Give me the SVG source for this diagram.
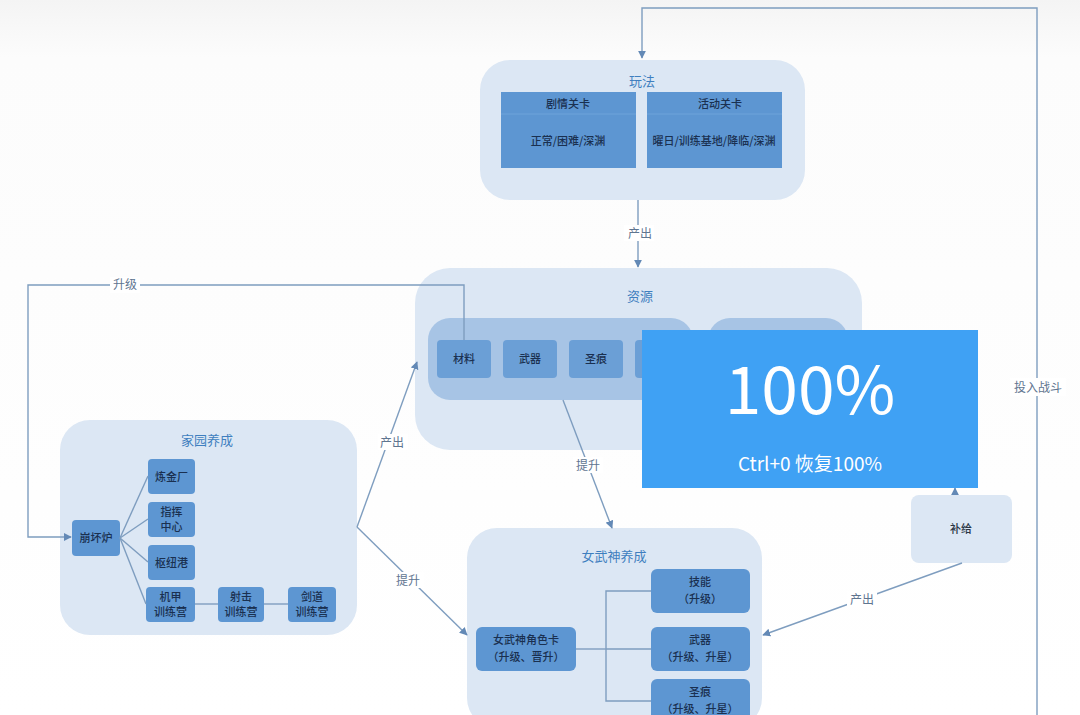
<svg xmlns="http://www.w3.org/2000/svg" width="1080" height="715" viewBox="0 0 1080 715">
<style>
text{font-family:"Noto Sans CJK SC","Liberation Sans",sans-serif;}
.grp{fill:#dce7f4;}
.gt{font-size:13px;fill:#3f7fbf;text-anchor:middle;}
.nd{fill:#5d96d2;}
.nt{font-size:11px;fill:#1a3050;text-anchor:middle;font-weight:500;}
.ri{fill:#6b9fd6;}
.ln{fill:none;stroke:#7e9dbf;stroke-width:1.4;}
.lb{font-size:12px;fill:#5f7590;text-anchor:middle;}
.lbg{fill:#ffffff;}
</style>
<defs>
<marker id="ah" viewBox="0 0 10 10" refX="9" refY="5" markerWidth="8" markerHeight="8" orient="auto" markerUnits="userSpaceOnUse">
<path d="M0,0 L10,5 L0,10 z" fill="#6389b6"/>
</marker>
<linearGradient id="bg" x1="0" y1="0" x2="0" y2="1">
<stop offset="0" stop-color="#f4f4f4"/><stop offset="0.08" stop-color="#fcfcfc"/><stop offset="1" stop-color="#ffffff"/>
</linearGradient>
</defs>
<rect width="1080" height="715" fill="url(#bg)"/>

<g id="g-wanfa">
<rect class="grp" x="480" y="60" width="325" height="140" rx="30"/>
<text class="gt" x="642" y="86">玩法</text>
<g id="n-juqing">
<rect class="nd" x="501" y="92" width="135" height="76"/>
<line x1="501" y1="114" x2="636" y2="114" stroke="#6fa3da" stroke-width="1"/>
<text class="nt" x="568" y="108">剧情关卡</text>
<text class="nt" x="568" y="145">正常/困难/深渊</text>
</g>
<g id="n-huodong">
<rect class="nd" x="647" y="92" width="135" height="76"/>
<line x1="647" y1="114" x2="782" y2="114" stroke="#6fa3da" stroke-width="1"/>
<text class="nt" x="720" y="108">活动关卡</text>
<text class="nt" x="714" y="145">曜日/训练基地/降临/深渊</text>
</g>
</g>

<g id="g-ziyuan">
<rect class="grp" x="415" y="268" width="447" height="182" rx="35"/>
<text class="gt" x="640" y="301">资源</text>
<rect x="428" y="318" width="265" height="82" rx="22" fill="#a7c4e5"/>
<rect x="708" y="318" width="140" height="82" rx="22" fill="#a7c4e5"/>
<g id="n-cailiao"><rect class="ri" x="437" y="340" width="54" height="38" rx="4"/><text class="nt" x="464" y="363">材料</text></g>
<g id="n-wuqi"><rect class="ri" x="503" y="340" width="54" height="38" rx="4"/><text class="nt" x="530" y="363">武器</text></g>
<g id="n-shenghen"><rect class="ri" x="569" y="340" width="54" height="38" rx="4"/><text class="nt" x="596" y="363">圣痕</text></g>
<g id="n-r4"><rect class="ri" x="635" y="340" width="54" height="38" rx="4"/></g>
</g>

<g id="g-jiayuan">
<rect class="grp" x="60" y="420" width="297" height="215" rx="30"/>
<text class="gt" x="207" y="445">家园养成</text>
<g id="n-benghuailu"><rect class="nd" x="72" y="520" width="48" height="36" rx="4"/><text class="nt" x="96" y="542">崩坏炉</text></g>
<g id="n-lianjin"><rect class="nd" x="148" y="459" width="47" height="35" rx="4"/><text class="nt" x="171.5" y="481">炼金厂</text></g>
<g id="n-zhihui"><rect class="nd" x="148" y="502" width="47" height="35" rx="4"/><text class="nt" x="171.5" y="516">指挥</text><text class="nt" x="171.5" y="531">中心</text></g>
<g id="n-shuniu"><rect class="nd" x="148" y="545" width="47" height="35" rx="4"/><text class="nt" x="171.5" y="567">枢纽港</text></g>
<g id="n-jijia"><rect class="nd" x="146" y="587" width="49" height="35" rx="4"/><text class="nt" x="170.5" y="601">机甲</text><text class="nt" x="170.5" y="616">训练营</text></g>
<g id="n-sheji"><rect class="nd" x="218" y="587" width="46" height="35" rx="4"/><text class="nt" x="241" y="601">射击</text><text class="nt" x="241" y="616">训练营</text></g>
<g id="n-jiandao"><rect class="nd" x="288" y="587" width="48" height="35" rx="4"/><text class="nt" x="312" y="601">剑道</text><text class="nt" x="312" y="616">训练营</text></g>
</g>

<g id="g-nvwushen">
<rect class="grp" x="467" y="528" width="295" height="200" rx="30"/>
<text class="gt" x="614" y="561">女武神养成</text>
<g id="n-juese"><rect class="nd" x="476" y="627" width="100" height="44" rx="6"/><text class="nt" x="526" y="644">女武神角色卡</text><text class="nt" x="526" y="661">（升级、晋升）</text></g>
<g id="n-jineng"><rect class="nd" x="651" y="569" width="99" height="44" rx="6"/><text class="nt" x="700" y="586">技能</text><text class="nt" x="700" y="603">（升级）</text></g>
<g id="n-wuqi2"><rect class="nd" x="651" y="627" width="99" height="44" rx="6"/><text class="nt" x="700" y="644">武器</text><text class="nt" x="700" y="661">（升级、升星）</text></g>
<g id="n-shenghen2"><rect class="nd" x="651" y="679" width="99" height="44" rx="6"/><text class="nt" x="700" y="696">圣痕</text><text class="nt" x="700" y="713">（升级、升星）</text></g>
</g>

<g id="n-buji">
<rect x="911" y="495" width="101" height="68" rx="8" fill="#dce7f4"/>
<text class="nt" x="961" y="533" style="fill:#2a3545">补给</text>
</g>

<g id="connectors">
<polyline class="ln" points="1037,715 1037,8 642,8 642,58" marker-end="url(#ah)"/>
<rect class="lbg" x="1010" y="378" width="56" height="18"/>
<text class="lb" x="1038" y="392">投入战斗</text>
<line class="ln" x1="638" y1="200" x2="638" y2="267" marker-end="url(#ah)"/>
<rect class="lbg" x="624" y="225" width="30" height="16"/>
<text class="lb" x="640" y="238">产出</text>
<polyline class="ln" points="464,340 464,285 28,285 28,537 71,537" marker-end="url(#ah)"/>
<rect class="lbg" x="110" y="277" width="30" height="16"/>
<text class="lb" x="125" y="289">升级</text>
<line class="ln" x1="120" y1="538" x2="148" y2="476"/>
<line class="ln" x1="120" y1="538" x2="148" y2="519"/>
<line class="ln" x1="120" y1="538" x2="148" y2="562"/>
<line class="ln" x1="120" y1="538" x2="146" y2="604"/>
<line class="ln" x1="195" y1="604" x2="218" y2="604"/>
<line class="ln" x1="264" y1="604" x2="288" y2="604"/>
<line class="ln" x1="357" y1="527" x2="417" y2="362" marker-end="url(#ah)"/>
<rect class="lbg" x="378" y="434" width="30" height="16"/>
<text class="lb" x="392" y="447">产出</text>
<line class="ln" x1="357" y1="527" x2="467" y2="635" marker-end="url(#ah)"/>
<rect class="lbg" x="394" y="572" width="30" height="16"/>
<text class="lb" x="408" y="585">提升</text>
<line class="ln" x1="563" y1="400" x2="612" y2="528" marker-end="url(#ah)"/>
<rect class="lbg" x="573" y="457" width="30" height="16"/>
<text class="lb" x="588" y="470">提升</text>
<line class="ln" x1="576" y1="649" x2="606" y2="649"/>
<polyline class="ln" points="651,591 606,591 606,701 651,701"/>
<line class="ln" x1="606" y1="649" x2="651" y2="649"/>
<line class="ln" x1="955" y1="495" x2="955" y2="488" marker-end="url(#ah)"/>
<line class="ln" x1="962" y1="563" x2="763" y2="635" marker-end="url(#ah)"/>
<rect class="lbg" x="847" y="591" width="30" height="16"/>
<text class="lb" x="862" y="604">产出</text>
</g>

<g id="overlay">
<rect x="642" y="330" width="336" height="158" fill="#3fa1f4"/>
<text x="810" y="414" font-family="Open Sans, Noto Sans, sans-serif" font-size="66" fill="#ffffff" text-anchor="middle">100%</text>
<text x="810" y="471" font-family="Noto Sans CJK SC, Open Sans, sans-serif" font-size="19" fill="#ffffff" text-anchor="middle">Ctrl+0 恢复100%</text>
</g>
</svg>
